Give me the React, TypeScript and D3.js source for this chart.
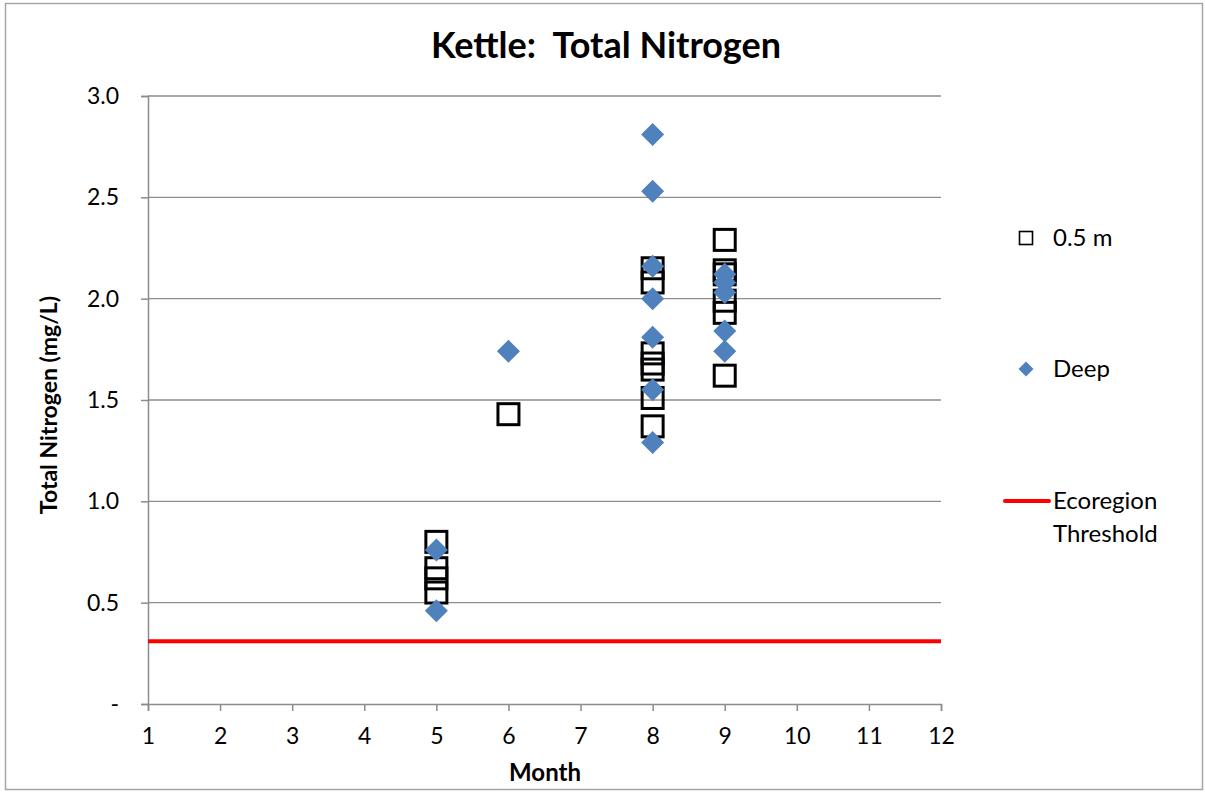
import React, { useEffect, useRef } from 'react';
import * as d3 from 'd3';

// 0.5 m samples
const shallowMonths = [5, 5, 5, 5, 6, 8, 8, 8, 8, 8, 8, 8, 9, 9, 9, 9, 9, 9];
const shallowValues = [0.80, 0.67, 0.62, 0.55, 1.43, 2.15, 2.08, 1.73, 1.68, 1.65, 1.51, 1.37, 2.29, 2.14, 2.12, 1.99, 1.93, 1.62];

// Deep samples
const deepMonths = [5, 5, 6, 8, 8, 8, 8, 8, 8, 8, 9, 9, 9, 9, 9];
const deepValues = [0.76, 0.46, 1.74, 2.81, 2.53, 2.16, 2.00, 1.81, 1.55, 1.29, 2.12, 2.08, 2.03, 1.84, 1.74];

const thresholdValue = 0.31;
const xTicks = [1, 2, 3, 4, 5, 6, 7, 8, 9, 10, 11, 12];
const yTicks = [0, 0.5, 1.0, 1.5, 2.0, 2.5, 3.0];

const font = 'Lato, "Open Sans", sans-serif';

const App: React.FC = () => {
  const svgRef = useRef<SVGSVGElement | null>(null);

  useEffect(() => {
    if (!svgRef.current) return;
    const svg = d3.select(svgRef.current);
    svg.selectAll('*').remove();

    const width = 1205;
    const height = 793;
    const margin = { top: 96, right: 264, bottom: 89, left: 148 };

    svg.attr('width', width).attr('height', height);

    // outer border
    svg.append('rect')
      .attr('x', 5.5).attr('y', 3.5)
      .attr('width', 1197).attr('height', 786)
      .attr('fill', '#fff')
      .attr('stroke', '#a6a6a6')
      .attr('stroke-width', 1.5);

    const x = d3.scaleLinear().domain([1, 12]).range([margin.left, width - margin.right]);
    const y = d3.scaleLinear().domain([0, 3]).range([height - margin.bottom, margin.top]);

    // gridlines
    svg.append('g')
      .selectAll('line')
      .data(yTicks.filter(d => d > 0))
      .enter().append('line')
      .attr('x1', x(1)).attr('x2', x(12))
      .attr('y1', d => y(d)).attr('y2', d => y(d))
      .attr('stroke', '#8c8c8c')
      .attr('stroke-width', 1.3);

    // y axis
    const yAxis = svg.append('g')
      .attr('transform', `translate(${x(1)},0)`)
      .call(d3.axisLeft(y).tickValues(yTicks).tickSize(7).tickPadding(22)
        .tickFormat(d => (+d === 0 ? '-' : d3.format('.1f')(+d))));
    yAxis.select('.domain').attr('stroke', '#8c8c8c').attr('stroke-width', 1.5);
    yAxis.selectAll('.tick line').attr('stroke', '#8c8c8c').attr('stroke-width', 1.5);
    yAxis.selectAll('.tick text')
      .attr('font-family', font).attr('font-size', 23).attr('fill', '#000');

    // x axis
    const xAxis = svg.append('g')
      .attr('transform', `translate(0,${y(0)})`)
      .call(d3.axisBottom(x).tickValues(xTicks).tickSize(7).tickPadding(17).tickFormat(d3.format('d')));
    xAxis.select('.domain').attr('stroke', '#8c8c8c').attr('stroke-width', 1.5);
    xAxis.selectAll('.tick line').attr('stroke', '#8c8c8c').attr('stroke-width', 1.5);
    xAxis.selectAll('.tick text')
      .attr('font-family', font).attr('font-size', 23).attr('fill', '#000');

    // threshold line
    svg.append('line')
      .attr('x1', x(1)).attr('x2', x(12))
      .attr('y1', y(thresholdValue)).attr('y2', y(thresholdValue))
      .attr('stroke', '#ff0000')
      .attr('stroke-width', 4);

    // 0.5 m squares
    const sq = 21;
    svg.append('g')
      .selectAll('rect')
      .data(shallowValues)
      .enter().append('rect')
      .attr('x', (d, i) => x(shallowMonths[i]) - sq / 2)
      .attr('y', d => y(d) - sq / 2)
      .attr('width', sq).attr('height', sq)
      .attr('fill', 'none')
      .attr('stroke', '#000')
      .attr('stroke-width', 3);

    // Deep diamonds
    const dm = 11.5;
    const diamond = (cx: number, cy: number, r: number) =>
      `M${cx},${cy - r}L${cx + r},${cy}L${cx},${cy + r}L${cx - r},${cy}Z`;
    svg.append('g')
      .selectAll('path')
      .data(deepValues)
      .enter().append('path')
      .attr('d', (d, i) => diamond(x(deepMonths[i]), y(d), dm))
      .attr('fill', '#4f81bd');

    // title
    svg.append('text')
      .attr('x', 606).attr('y', 58)
      .attr('text-anchor', 'middle')
      .attr('font-family', font).attr('font-size', 36).attr('font-weight', 'bold')
      .style('white-space', 'pre')
      .text('Kettle:  Total Nitrogen');

    // axis titles
    svg.append('text')
      .attr('x', 545).attr('y', 781)
      .attr('text-anchor', 'middle')
      .attr('font-family', font).attr('font-size', 24).attr('font-weight', 'bold')
      .text('Month');

    svg.append('text')
      .attr('transform', `translate(57,${y(1.5) + 5}) rotate(-90)`)
      .attr('text-anchor', 'middle')
      .attr('font-family', font).attr('font-size', 23).attr('font-weight', 'bold')
      .text('Total Nitrogen (mg/L)');

    // legend
    const legend = svg.append('g').attr('font-family', font).attr('font-size', 24);
    legend.append('rect')
      .attr('x', 1019.5).attr('y', 231.5).attr('width', 13).attr('height', 13)
      .attr('fill', 'none').attr('stroke', '#000').attr('stroke-width', 1.6);
    legend.append('text').attr('x', 1053).attr('y', 246).text('0.5 m');

    legend.append('path').attr('d', diamond(1026, 369, 7.5)).attr('fill', '#4f81bd');
    legend.append('text').attr('x', 1053).attr('y', 377).text('Deep');

    legend.append('line')
      .attr('x1', 1005).attr('x2', 1049).attr('y1', 501).attr('y2', 501)
      .attr('stroke', '#ff0000').attr('stroke-width', 4).attr('stroke-linecap', 'round');
    legend.append('text').attr('x', 1053).attr('y', 509).text('Ecoregion');
    legend.append('text').attr('x', 1053).attr('y', 542).text('Threshold');
  }, []);

  return <svg ref={svgRef} style={{ position: 'absolute', left: 0, top: 0 }}></svg>;
};

export default App;
